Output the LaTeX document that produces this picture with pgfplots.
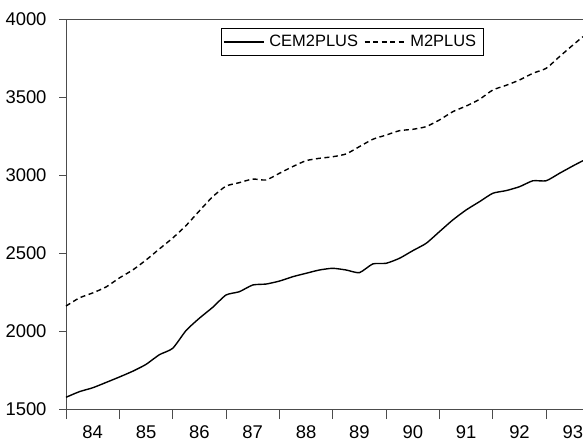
\documentclass[border=0pt]{standalone}
\usepackage{fontspec}
\setmainfont{Liberation Sans}
\usepackage{pgfplots}
\pgfplotsset{compat=1.18}
\definecolor{axiscol}{gray}{0.3}

\begin{document}
\begin{tikzpicture}
\path[use as bounding box] (-66bp,-35bp) rectangle (517bp,409bp);
\begin{axis}[
    at={(0,0)}, anchor=south west,
    scale only axis,
    width=517bp, height=390bp,
    xmin=1984, xmax=1993.69,
    ymin=1500, ymax=4000,
    clip=false,
    axis x line*=bottom,
    axis y line*=left,
    axis line style={-, draw=axiscol, line width=0.9bp},
    tick style={draw=axiscol, line width=0.9bp},
    tick align=outside,
    xtick={1984,...,1993},
    xticklabels={},
    minor x tick num=3,
    major tick length=10bp,
    minor tick length=4.5bp,
    ytick=\empty,
    extra y ticks={1500,2000,...,4000},
    extra y tick style={major tick length=7bp},
    extra x ticks={1984.5,1985.5,...,1993.5},
    extra x tick labels={84,85,86,87,88,89,90,91,92,93},
    extra x tick style={major tick length=0pt},
    xticklabel style={font=\fontsize{18.5}{21}\selectfont, yshift=-14.5bp, inner ysep=2bp},
    yticklabel style={font=\fontsize{18.5}{21}\selectfont, xshift=-9bp},
    /pgf/number format/assume math mode=true,
    /pgf/number format/set thousands separator={},
    legend columns=2,
    legend style={
        at={(0.299,0.977)}, anchor=north west,
        draw=black, line width=0.8bp,
        font=\fontsize{16.5}{19}\selectfont,
        inner xsep=2bp, inner ysep=3bp,
        nodes={inner xsep=5bp, inner ysep=4bp},
        /tikz/every even column/.append style={column sep=1bp},
    },
    legend image code/.code={\draw[#1] (0bp,0bp) -- (40bp,0bp);},
]

% CEM2PLUS (solid)
\addplot[black, line width=1.4bp, smooth, tension=0.35] coordinates {
    (1984.00,1575) (1984.25,1611) (1984.50,1636) (1984.75,1670)
    (1985.00,1705) (1985.25,1742) (1985.50,1786) (1985.75,1848)
    (1986.00,1889) (1986.25,2003) (1986.50,2082) (1986.75,2152)
    (1987.00,2231) (1987.25,2252) (1987.50,2295) (1987.75,2301)
    (1988.00,2320) (1988.25,2348) (1988.50,2370) (1988.75,2391)
    (1989.00,2402) (1989.25,2391) (1989.50,2374) (1989.75,2430)
    (1990.00,2434) (1990.25,2466) (1990.50,2515) (1990.75,2562)
    (1991.00,2637) (1991.25,2712) (1991.50,2776) (1991.75,2829)
    (1992.00,2883) (1992.25,2900) (1992.50,2925) (1992.75,2963)
    (1993.00,2963) (1993.25,3011) (1993.50,3058) (1993.69,3092)
};
\addlegendentry{CEM2PLUS}

% M2PLUS (dashed)
\addplot[black, line width=1.4bp, dash pattern=on 5bp off 3.5bp, smooth, tension=0.35] coordinates {
    (1984.00,2160) (1984.25,2212) (1984.50,2244) (1984.75,2282)
    (1985.00,2340) (1985.25,2391) (1985.50,2455) (1985.75,2526)
    (1986.00,2596) (1986.25,2676) (1986.50,2770) (1986.75,2861)
    (1987.00,2929) (1987.25,2951) (1987.50,2974) (1987.75,2968)
    (1988.00,3011) (1988.25,3054) (1988.50,3092) (1988.75,3107)
    (1989.00,3117) (1989.25,3135) (1989.50,3182) (1989.75,3229)
    (1990.00,3256) (1990.25,3284) (1990.50,3293) (1990.75,3310)
    (1991.00,3353) (1991.25,3406) (1991.50,3442) (1991.75,3485)
    (1992.00,3545) (1992.25,3575) (1992.50,3609) (1992.75,3652)
    (1993.00,3684) (1993.25,3759) (1993.50,3833) (1993.69,3887)
};
\addlegendentry{M2PLUS}

\draw[axiscol, line width=0.9bp] (rel axis cs:0,1) -- (rel axis cs:1,1);
\end{axis}
\end{tikzpicture}
\end{document}
